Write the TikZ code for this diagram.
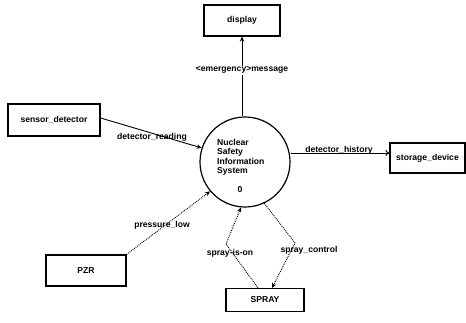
\documentclass[tikz,border=0pt]{standalone}
\usepackage{fontspec}
\setmainfont{Liberation Sans}
\usetikzlibrary{arrows.meta}
\begin{document}
\begin{tikzpicture}[x=1pt,y=-1pt,
  lbl/.style={font=\bfseries\fontsize{8.6}{9.5}\selectfont, inner sep=1pt},
  ext/.style={draw, line width=1.2pt, minimum width=76pt, minimum height=31pt, font=\bfseries\fontsize{8.6}{9.5}\selectfont, inner sep=2pt},
  flow/.style={line width=0.9pt, -{Stealth[length=5pt,width=4.5pt]}},
  dflow/.style={line width=0.9pt, densely dotted, -{Stealth[length=5pt,width=4.5pt]}}]
\useasboundingbox (0,0) rectangle (466,322);
\node[ext] (disp) at (242,20.5) {display};
\node[ext, minimum width=92pt, minimum height=32pt] (sd) at (54,120) {sensor\_detector};
\node[ext, minimum width=75pt, minimum height=30pt] (sto) at (427.5,158) {storage\_device};
\node[ext, minimum width=80pt, minimum height=31pt] (pzr) at (86,270.5) {PZR};
\node[ext, minimum width=78pt, minimum height=23pt] (spray) at (265,300) {SPRAY};
\node[draw, circle, line width=1.2pt, minimum size=90pt, inner sep=0pt] (p) at (245,162) {};
\node[lbl, align=left, anchor=north west] (ptext) at (216,138) {Nuclear\\Safety\\Information\\System};
\node[lbl] (pnum) at (240,190) {0};
% flows
\draw[flow] (p.north -| disp) -- (disp.south) node[lbl, pos=0.58, fill=white] (l1) {<emergency>message};
\draw[flow] (sd.east |- 0,118) -- (p.162);
\node[lbl] (l2) at (152,137) {detector\_reading};
\draw[flow, -{To[length=4pt,width=6pt]}] (p.east |- 0,153) -- (sto.west |- 0,153);
\node[lbl, anchor=south] (l3) at (339,155) {detector\_history};
\draw[dflow] (pzr.north east) -- (p.220);
\node[lbl] (l4) at (162,225) {pressure\_low};
\coordinate (k1) at (226,244);
\coordinate (k2) at (295,243);
\draw[dflow] (spray.north -| 258,0) -- (k1) -- (p.265);
\node[lbl] (l5) at (230,253) {spray-is-on};
\draw[dflow] (p.295) -- (k2) -- (spray.north -| 272,0);
\node[lbl] (l6) at (309,250) {spray\_control};
\end{tikzpicture}
\end{document}
